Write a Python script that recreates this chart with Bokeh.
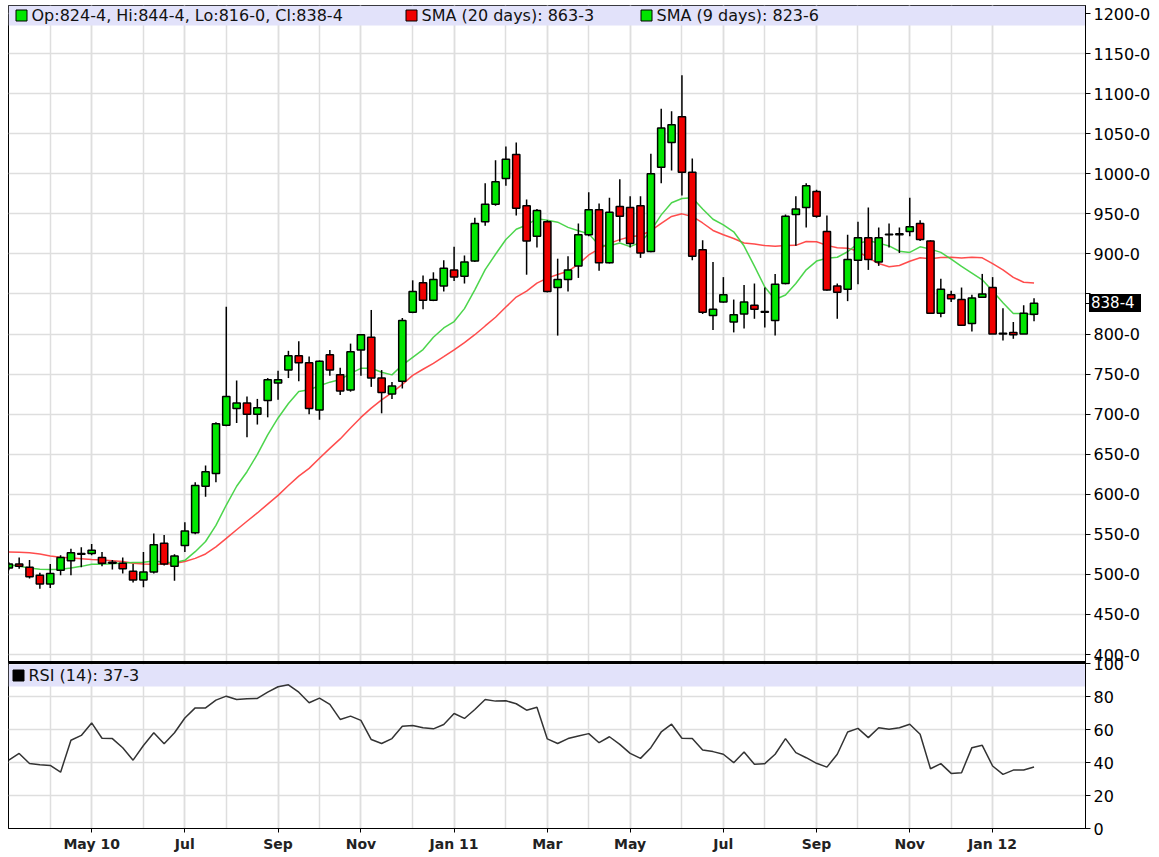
import pandas as pd
from bokeh.plotting import figure
from bokeh.layouts import column
from bokeh.models import (Range1d, FixedTicker, CustomJSTickFormatter, BoxAnnotation,
                          Span, Label, ColumnDataSource, Div)
from bokeh.embed import file_html
from bokeh.resources import INLINE

# ---------------- data (weekly bars) ----------------
first_week = "2010-03-08"
opens = [508, 513, 509, 499, 488, 505, 517, 525, 526, 521, 515, 514, 504, 493, 503, 539, 510, 536, 552, 610,
         626, 686, 707, 714, 700, 717, 739, 755, 773, 764, 705, 774, 749, 730, 780, 796, 745, 725, 741, 827,
         864, 842, 860, 880, 872, 891, 940, 962, 994, 1024, 960, 922, 940, 858, 868, 885, 924, 955, 889, 959,
         958, 960, 903, 1008, 1039, 1071, 1002, 905, 823, 840, 815, 825, 836, 828, 817, 863, 949, 958, 978, 928,
         860, 856, 892, 920, 890, 924, 924, 928, 938, 916, 826, 849, 843, 813, 846, 858, 801, 802, 800, 824.5]
highs = [515, 521, 518, 502, 513, 524, 532, 534, 538, 528, 518, 521, 513, 528, 551, 549, 525, 565, 615, 636,
         690, 834, 742, 722, 719, 745, 754, 779, 791, 772, 767, 780, 758, 788, 800, 830, 755, 740, 820, 867,
         873, 877, 892, 909, 898, 945, 988, 1017, 1034, 1039, 968, 956, 942, 894, 897, 938, 977, 963, 970, 993,
         972, 972, 1025, 1081, 1078, 1123, 1019, 917, 890, 871, 843, 861, 863, 858, 875, 949, 972, 988, 980, 948,
         863, 924, 940, 958, 933, 938, 933, 970, 942, 917, 869, 854, 858, 849, 875, 871, 832, 815, 836, 844.5]
lows = [505, 507, 495, 482, 483, 499, 499, 509, 524, 510, 506, 501, 490, 484, 501, 511, 492, 528, 550, 597,
        615, 685, 689, 671, 687, 696, 718, 745, 741, 700, 693, 748, 724, 728, 748, 734, 701, 719, 732, 826,
        831, 841, 853, 866, 863, 890, 935, 960, 985, 948, 874, 908, 852, 798, 853, 870, 922, 879, 888, 915,
        908, 895, 902, 988, 1004, 973, 892, 825, 805, 839, 802, 807, 819, 808, 798, 862, 910, 933, 945, 854,
        819, 841, 862, 880, 885, 908, 901, 922, 916, 825, 821, 840, 810, 803, 845, 800, 792, 794, 800, 816]
closes = [513, 510, 497, 488, 501, 521, 527, 526, 530, 514, 514, 507, 493, 503, 537, 513, 523, 554, 611, 628,
          688, 722, 714, 700, 708, 743, 743, 773, 764, 707, 766, 755, 729, 778, 799, 745, 727, 735, 817, 853,
          842, 868, 882, 871, 890, 938, 962, 990, 1018, 957, 916, 954, 853, 868, 880, 924, 955, 889, 952, 947,
          913, 901, 1000, 1057, 1061, 1002, 897, 827, 831, 849, 824, 840, 831, 827, 862, 947, 956, 985, 947, 855,
          852, 893, 920, 893, 920, 924.5, 925, 934, 918, 826, 856, 844, 811, 845, 850, 800, 800, 799, 826, 838.5]
# moving-average values before a full window exists
sma20_head = [528, 527.5, 527, 525.5, 523, 521.5, 520.5, 519.5, 518.5, 518, 517, 516, 514, 513, 512.5,
              512.5, 513.5, 516, 520]
sma9_head = [512, 510, 508, 506.5, 506, 506.5, 508, 510]
rsi14 = [41.4, 45.5, 39.4, 38.6, 38.2, 34.1, 53.5, 56.4, 64, 54.7, 54.5, 48.9, 41.4, 50.3, 58, 51.3, 58, 67,
         73.1, 73.1, 77.8, 80.2, 78.2, 78.6, 78.8, 82.6, 85.9, 87.1, 82.6, 76.2, 79, 75.2, 66.1, 68.1, 65.5,
         53.9, 51.5, 54.5, 62, 62.4, 61, 60.4, 63, 69.7, 66.7, 72.1, 78.2, 77.2, 77.4, 75.6, 71.7, 73.5, 54.3,
         51.5, 54.5, 56, 57.5, 52, 55.6, 51, 45.5, 42.5, 49, 58.5, 63.2, 54.7, 54.5, 47.6, 46.6, 45, 39.9,
         46.4, 38.9, 39.3, 45, 54.5, 46, 42.9, 39.5, 37.2, 45, 58.5, 60.7, 55.1, 61.1, 60.1, 61.1, 63.2, 57.1,
         36.2, 39.3, 33.4, 33.8, 49, 50.4, 37.9, 32.8, 35.4, 35.4, 37.3]
price_ticks = list(range(400, 1250, 50))
hidden_price_label = 850
rsi_ticks = [0, 20, 40, 60, 80, 100]
legend_ohlc = "Op:824-4, Hi:844-4, Lo:816-0, Cl:838-4"
legend_sma20 = "SMA (20 days): 863-3"
legend_sma9 = "SMA (9 days): 823-6"
legend_rsi = "RSI (14): 37-3"
last_price_label = "838-4"

# ---------------- layout helpers ----------------
FL, FT, FW, FH = 8, 5, 1077, 823
X0, X1 = -0.03, 103.97
PPU = (654 - 13) / 800.0
def price_at(py):
    return 1200 - (py - 13) / PPU
def py_of(price):
    return 13 + (1200 - price) * PPU
P_TOP, P_BOT = price_at(FT), price_at(FT + FH)
RPPU = (828 - 663) / 100.0
R_TOP = (FT + FH - FT) / RPPU
def rsi_at(py):
    return (FT + FH - py) / RPPU
XPPU = FW / (X1 - X0)
def x_at(px):
    return X0 + (px - FL) / XPPU

n = len(closes)
idx = list(range(n))
dates = pd.date_range(first_week, periods=n, freq="7D")

s = pd.Series(closes, dtype=float)
sma20 = list(sma20_head) + list(s.rolling(20).mean().iloc[19:])
sma9 = list(sma9_head) + list(s.rolling(9).mean().iloc[8:])

up = [c >= o for o, c in zip(opens, closes)]
src = ColumnDataSource(dict(
    x=idx, high=highs, low=lows,
    top=[max(o, c) for o, c in zip(opens, closes)],
    bottom=[min(o, c) for o, c in zip(opens, closes)],
    color=["#00e600" if u else "#f00000" for u in up],
))

month_idx = [i for i in range(1, n) if dates[i].month != dates[i - 1].month]
labeled = [i for i in month_idx if dates[i].month % 2 == 1]
labels = {}
for k, i in enumerate(labeled):
    d = dates[i]
    t = d.strftime("%b")
    if k == 0 or d.month == 1:
        t += d.strftime(" %y")
    labels[i] = t

p = figure(frame_width=FW, frame_height=FH, min_border_left=FL, min_border_top=FT,
           min_border_right=74, min_border_bottom=29,
           x_range=Range1d(X0, X1), y_range=Range1d(P_BOT, P_TOP),
           y_axis_location="right", toolbar_location=None, output_backend="svg",
           background_fill_color="white", border_fill_color="white")
p.extra_y_ranges = {"rsi": Range1d(0, R_TOP)}
p.outline_line_color = "black"
p.outline_line_width = 1

# axes
def rsi_to_price(v):
    return P_BOT + v * (P_TOP - P_BOT) / R_TOP
grid_ticks = price_ticks + [rsi_to_price(v) for v in rsi_ticks]
p.yaxis.ticker = FixedTicker(ticks=grid_ticks + [closes[-1]])
p.yaxis.formatter = CustomJSTickFormatter(
    args=dict(pb=P_BOT, k=(P_TOP - P_BOT) / R_TOP, split=395, hide=hidden_price_label,
              last=closes[-1], last_label=last_price_label),
    code="""
    if (Math.abs(tick - last) < 0.01) { return last_label; }
    if (tick > split) {
        if (Math.abs(tick - hide) < 0.01) { return ''; }
        return tick.toFixed(0) + '-0';
    }
    return ((tick - pb) / k).toFixed(0);""")
p.yaxis.major_label_text_font = "DejaVu Sans"
p.yaxis.major_label_text_font_size = "16px"
p.yaxis.major_label_text_color = "black"
p.yaxis.major_tick_out = 5
p.yaxis.major_tick_in = 0
p.yaxis.minor_tick_line_color = None
p.yaxis.axis_line_color = "black"
p.yaxis.major_label_standoff = 3
p.ygrid.ticker = FixedTicker(ticks=grid_ticks)

p.xaxis.ticker = FixedTicker(ticks=labeled, minor_ticks=month_idx)
p.xaxis.major_label_overrides = labels
p.xaxis.major_label_text_font = "DejaVu Sans"
p.xaxis.major_label_text_font_style = "bold"
p.xaxis.major_label_text_font_size = "14px"
p.xaxis.major_label_text_color = "#222222"
p.xaxis.major_tick_out = 4
p.xaxis.major_tick_in = 0
p.xaxis.minor_tick_line_color = None
p.xaxis.axis_line_color = "black"
p.xaxis.major_label_standoff = 3

for g in (p.xgrid, p.ygrid):
    g.grid_line_color = "#dedede"
    g.grid_line_width = 1.5
p.xgrid.minor_grid_line_color = "#dedede"
p.xgrid.minor_grid_line_width = 1.5

# legend bands (underlay: above the grid, below the glyphs)
p.add_layout(BoxAnnotation(top=P_TOP, bottom=price_at(25), fill_color="#e2e2fa", fill_alpha=1,
                           line_color=None, level="underlay"))
p.add_layout(BoxAnnotation(top=rsi_at(664), bottom=rsi_at(686), y_range_name="rsi",
                           fill_color="#e2e2fa", fill_alpha=1, line_color=None, level="underlay"))
p.add_layout(Span(location=price_at(662), dimension="width", line_color="black", line_width=3))

# moving averages
p.line(idx, sma20, line_color="#ff3838", line_width=1.5, line_alpha=0.9)
p.line(idx, sma9, line_color="#38d038", line_width=1.5, line_alpha=0.9)

# candles
p.segment(x0="x", y0="low", x1="x", y1="high", source=src, line_color="black", line_width=1.5)
p.vbar(x="x", top="top", bottom="bottom", width=0.7, source=src, fill_color="color",
       line_color="black", line_width=1.5)

# RSI
p.line(idx, rsi14, y_range_name="rsi", line_color="#333333", line_width=1.5)

# legend texts
lab_font = dict(text_font="DejaVu Sans", text_font_size="16px", text_color="#111111",
                text_baseline="middle", text_align="left")
ly = price_at(15)
p.scatter([x_at(21), x_at(411), x_at(646)], [ly, ly, ly], marker="square", size=11,
          fill_color=["#00e600", "#f00000", "#00e600"], line_color="black", line_width=1)
p.add_layout(Label(x=x_at(31), y=ly, text=legend_ohlc, **lab_font))
p.add_layout(Label(x=x_at(421), y=ly, text=legend_sma20, **lab_font))
p.add_layout(Label(x=x_at(656), y=ly, text=legend_sma9, **lab_font))
ry = rsi_at(675)
p.scatter([x_at(18)], [ry], y_range_name="rsi", marker="square", size=11,
          fill_color="black", line_color="black")
p.add_layout(Label(x=x_at(28), y=ry, y_range_name="rsi", text=legend_rsi, **lab_font))

# last-price tag: a black box laid over the axis area, in front of the axis label
tag_top = int(round(py_of(closes[-1]) - 9))
tag = Div(text=last_price_label, width=52, height=18,
          styles={"position": "absolute", "left": "1089px", "top": f"{tag_top}px",
                  "background-color": "black", "color": "white", "font-family": "DejaVu Sans",
                  "font-size": "15px", "line-height": "18px", "padding-left": "2px",
                  "z-index": "10", "margin": "0"})

open("out.html", "w").write(file_html(column(p, tag), INLINE))
